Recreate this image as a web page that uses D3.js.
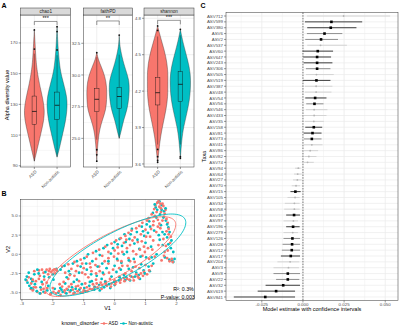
<!DOCTYPE html>
<html><head><meta charset="utf-8">
<script src="https://cdn.jsdelivr.net/npm/d3@7"></script>
<style>body{margin:0;background:#fff} svg{display:block;font-family:"Liberation Sans",Arial,sans-serif}</style>
</head><body><svg id="c" width="400" height="328"></svg>
<script>
// ================= DATA =================
// ---- Panel A: alpha diversity
const groups = ["ASD", "Non-autistic"];
const metrics = ["chao1", "faithPD", "shannon"];
const metricTicks = [[90,110,130,150,170],[25.0,27.5,30.0,32.5],[3.6,3.9,4.2,4.5,4.8]];
const metricTickLabels = [["90","110","130","150","170"],["25.0","27.5","30.0","32.5"],["3.6","3.9","4.2","4.5","4.8"]];
const metricLimits = [[89.2,188.2],[22.74,34.73],[3.575,4.827]];
const signifLabels = ["***","**","***"];
const bracketY = [184.0, 34.26, 4.783];
const bracketTipY = [181.7, 33.94, 4.75];
// violin density profiles: [value, relative width]
const chao1ASD = [[178.5,0],[170,0.07],[160,0.15],[154.4,0.23],[148,0.36],[139,0.64],[132.6,0.86],[126,1.0],[119.6,0.93],[111,0.64],[104.6,0.41],[98,0.18],[93,0]];
const chao1NA  = [[180.6,0],[172,0.06],[165,0.12],[155,0.25],[148,0.45],[141.5,0.72],[135,0.95],[129,1.0],[122,0.9],[115,0.7],[108,0.45],[101,0.22],[95.6,0]];
const faithASD = [[31.76,0],[31.2,0.15],[30.65,0.45],[29.87,0.82],[29.05,1.0],[28.03,0.98],[27.24,0.9],[26.45,0.55],[25.66,0.27],[24.87,0.14],[24.1,0.06],[23.2,0]];
const faithNA  = [[33.15,0],[32.5,0.04],[31.97,0.13],[30.9,0.43],[29.87,0.87],[29.3,1.0],[28.3,0.98],[27.24,0.78],[26.45,0.43],[25.66,0.22],[25.0,0]];
const shannonASD = [[4.737,0],[4.676,0.18],[4.594,0.45],[4.484,0.82],[4.374,1.0],[4.29,1.0],[4.15,1.0],[4.045,0.82],[3.94,0.55],[3.82,0.27],[3.715,0.13],[3.614,0]];
const shannonNA  = [[4.709,0],[4.65,0.13],[4.566,0.36],[4.456,0.72],[4.347,1.0],[4.23,1.0],[4.127,0.9],[4.02,0.64],[3.907,0.32],[3.798,0.13],[3.647,0]];
const violinProfiles = [[chao1ASD, chao1NA],[faithASD, faithNA],[shannonASD, shannonNA]];
const boxQ1 = [[117,120.2],[27.1,27.37],[4.086,4.113]];
const boxMedian = [[125.4,129.4],[28.08,28.3],[4.187,4.256]];
const boxQ3 = [[135.4,138],[28.95,29.03],[4.314,4.36]];
const whiskerLow = [[93,96],[24.9,25.0],[3.76,3.76]];
const whiskerHigh = [[163,162],[31.4,31.6],[4.65,4.66]];
const outliers = [[[166,178.5],[165.4,177.4,180.6]],[[31.76,24.1,23.7,23.2],[33.15]],[[4.70,4.737,3.72,3.66,3.63,3.614],[4.709,3.66,3.647]]];

// ---- Panel B: ordination
const pcoaXTicks = [-3,-2,-1,0,1,2];
const pcoaYTicks = [-5,-2.5,0,2.5,5];
const pcoaYTickLabels = ["-5.0","-2.5","0.0","2.5","5.0"];
const pcoaXLimits = [-3.04, 2.58];
const pcoaYLimits = [-5.86, 7.17];
const asdPoints = [[-2.85,-3.4],[-2.78,-3.0],[-2.7,-3.8],[-2.62,-4.3],[-2.55,-3.5],[-2.5,-4.9],[-2.45,-2.1],[-2.42,-2.8],[-2.38,-4.6],[-2.33,-3.9],[-2.3,-2.4],[-2.25,-5.0],[-2.2,-2.0],[-2.18,-4.4],[-2.15,-2.6],[-2.1,-1.9],[-2.08,-5.2],[-2.05,-2.3],[-2.0,-2.1],[-1.98,-4.9],[-1.95,-1.95],[-1.92,-2.5],[-1.9,-5.1],[-1.86,-2.2],[-2.6,-2.2],[-2.65,-4.7],[-2.4,-5.1],[-2.35,-2.0],[-2.28,-3.3],[-2.72,-4.5],
[-1.8,-4.8],[-1.75,-5.3],[-1.7,-4.2],[-1.65,-3.6],[-1.6,-5.0],[-1.55,-4.5],[-1.5,-3.2],[-1.45,-4.9],[-1.4,-3.9],[-1.35,-4.6],[-1.3,-2.8],[-1.25,-4.2],[-1.2,-4.8],[-1.15,-3.5],[-1.1,-4.4],[-1.05,-2.4],[-1.0,-4.7],[-0.95,-3.8],[-0.9,-4.3],[-0.85,-3.0],[-0.8,-4.5],[-0.75,-2.2],[-0.7,-3.9],[-0.65,-4.2],[-0.6,-3.3],[-0.55,-4.4],[-0.5,-1.6],[-0.45,-3.7],[-0.4,-4.0],[-0.35,-2.6],[-0.3,-3.5],[-0.25,-4.1],[-0.2,-1.2],[-0.15,-3.2],[-0.1,-3.8],[-0.05,-2.0],[0.0,-3.4],[0.05,-3.6],[0.1,-0.8],[0.15,-2.9],[0.2,-3.3],[0.25,-1.5],[0.3,-3.1],[0.35,-2.5],[0.4,-3.2],[0.45,-0.5],[0.5,-2.8],[0.55,-2.2],[0.6,-3.0],[0.65,-1.0],[0.7,-2.6],[0.75,-2.9],[0.8,-1.8],[0.85,-2.5],[0.9,-0.2],[0.95,-2.3],[1.0,-1.4],
[-1.7,-1.6],[-1.6,-2.4],[-1.5,-1.3],[-1.4,-1.9],[-1.3,-1.0],[-1.2,-1.5],[-1.1,-0.7],[-1.0,-1.8],[-0.9,-0.3],[-0.8,-1.2],[-0.7,0.2],[-0.6,-0.6],[-0.5,0.6],[-0.4,-0.2],[-0.3,1.0],[-0.2,0.3],[-0.1,1.4],[0.0,0.5],[0.05,1.8],[0.1,0.9],[0.2,2.1],[0.25,0.3],[0.3,1.5],[0.35,2.4],[0.4,0.8],[0.45,2.8],[0.5,1.2],[0.55,3.1],[0.6,0.4],[0.65,2.2],[0.7,3.4],[0.75,1.6],[0.8,3.7],[0.85,2.6],[0.9,4.1],[0.95,1.0],[1.0,3.2],[1.05,4.4],[-0.6,-2.5],[-0.2,-0.5],[0.15,-1.8],[0.5,-0.9],[0.7,0.0],
[1.1,4.7],[1.15,2.3],[1.2,5.2],[1.22,0.6],[1.25,3.8],[1.28,5.9],[1.3,-0.3],[1.32,6.4],[1.35,2.9],[1.38,6.7],[1.4,4.5],[1.42,1.2],[1.45,6.2],[1.48,3.4],[1.5,5.5],[1.52,-0.8],[1.55,6.6],[1.58,2.0],[1.6,4.9],[1.62,0.3],[1.65,5.8],[1.68,3.0],[1.7,-0.5],[1.72,4.1],[1.75,2.6],[1.78,-0.9],[1.8,1.5],[1.85,-0.6],[1.88,-1.0],[1.3,5.0],[1.45,4.0],[1.25,1.8],
[-1.78,-3.9],[-1.62,-4.7],[-1.48,-4.2],[-1.33,-5.1],[-1.18,-4.1],[-1.03,-5.0],[-0.88,-4.8],[-0.72,-4.6],[-0.58,-3.8],[-0.42,-4.5],[-0.28,-3.9],[-0.12,-4.2],[0.02,-3.9],[0.18,-3.7],[0.32,-3.5],[0.48,-3.3],[0.62,-3.4],[0.78,-3.1],[0.92,-2.8],[1.05,-2.6],[1.12,-2.1],[1.2,-1.5],
[-1.45,-2.7],[-1.25,-2.2],[-1.05,-1.2],[-0.95,-2.6],[-0.78,-1.7],[-0.62,-1.4],[-0.48,-2.2],[-0.32,-0.9],[-0.18,-2.4],[-0.02,-0.3],[0.12,0.1],[0.22,-0.9],[0.38,1.9],[0.42,-1.5],[0.58,1.8],[0.68,-1.6],[0.82,0.6],[0.88,1.7],[0.98,0.3],[1.08,0.8],[1.12,-0.6],[1.18,3.3],[1.02,2.3],
[1.36,5.5],[1.42,6.9],[1.48,6.6],[1.5,6.0],[1.58,6.3],[1.62,5.3],[1.68,4.6],[1.26,4.3],[1.4,3.6],[1.55,4.4],[1.75,3.3],[1.82,2.3],[1.66,1.1],[1.6,-0.2],[1.72,0.5],
[-2.55,-4.3],[-2.45,-3.2],[-2.2,-3.7],[-2.0,-4.4],[-2.12,-2.2],[-1.9,-2.0],[-2.3,-4.5],[-2.65,-3.3]];
const naPoints = [[-2.88,-3.3],[-2.82,-3.7],[-2.76,-4.1],[-2.7,-3.2],[-2.64,-4.6],[-2.58,-3.9],[-2.52,-4.8],[-2.46,-2.5],[-2.4,-4.3],[-2.36,-3.6],[-2.3,-4.9],[-2.24,-2.3],[-2.18,-4.7],[-2.12,-3.0],[-2.06,-5.1],[-2.0,-2.6],[-1.94,-4.5],[-1.88,-1.9],[-2.78,-2.4],[-2.5,-2.0],
[-1.82,-5.0],[-1.76,-4.4],[-1.68,-4.9],[-1.6,-3.8],[-1.52,-4.6],[-1.44,-2.6],[-1.38,-4.3],[-1.3,-5.0],[-1.22,-3.3],[-1.14,-4.6],[-1.06,-3.9],[-0.98,-4.4],[-0.9,-2.0],[-0.82,-4.1],[-0.74,-3.5],[-0.66,-4.6],[-0.58,-2.8],[-0.5,-4.0],[-0.42,-3.2],[-0.34,-4.3],[-0.26,-1.8],[-0.18,-3.9],[-0.1,-2.9],[-0.02,-3.6],[0.06,-2.3],[0.14,-3.4],[0.22,-1.1],[0.3,-2.7],[0.38,-3.0],[0.46,-1.9],[0.54,-2.9],[0.62,-0.6],[0.7,-2.4],[0.78,-2.7],[0.86,-1.3],[0.94,-2.1],[1.02,-0.4],[1.1,-1.6],
[-1.75,-2.0],[-1.62,-1.5],[-1.48,-2.2],[-1.35,-1.2],[-1.22,-0.9],[-1.1,-1.6],[-0.98,-0.5],[-0.86,0.0],[-0.72,-0.9],[-0.6,0.4],[-0.48,-0.1],[-0.36,0.8],[-0.24,1.2],[-0.12,0.1],[0.0,1.6],[0.08,-0.6],[0.16,2.0],[0.24,1.1],[0.32,2.6],[0.4,0.3],[0.48,2.0],[0.56,3.3],[0.64,1.4],[0.72,2.9],[0.8,0.7],[0.88,3.6],[0.96,2.4],[1.04,3.9],[0.0,-1.5],[-0.4,-1.2],[0.3,0.0],
[1.12,4.3],[1.18,1.0],[1.24,5.4],[1.28,3.1],[1.33,6.1],[1.36,0.0],[1.4,6.8],[1.43,2.5],[1.47,5.2],[1.5,3.8],[1.53,6.4],[1.56,1.2],[1.6,5.6],[1.63,-0.4],[1.66,4.4],[1.7,2.2],[1.74,3.5],[1.77,-0.7],[1.82,0.8],[1.86,-0.8],[1.9,-1.0],[1.35,4.8],[1.55,2.9],
[-1.72,-4.6],[-1.56,-5.1],[-1.42,-4.7],[-1.26,-4.5],[-1.1,-5.0],[-0.94,-4.8],[-0.8,-3.6],[-0.64,-4.3],[-0.48,-4.7],[-0.3,-3.6],[-0.14,-4.4],[0.0,-4.0],[0.16,-3.0],[0.34,-3.4],[0.5,-3.4],[0.66,-2.9],[0.82,-3.2],[0.98,-2.5],[1.14,-2.2],[1.25,-1.2],
[-1.55,-3.0],[-1.32,-3.6],[-1.15,-2.4],[-0.92,-1.2],[-0.76,-2.6],[-0.55,-1.6],[-0.38,-2.4],[-0.2,-0.9],[-0.05,0.8],[0.1,1.3],[0.2,-2.0],[0.36,1.6],[0.46,-0.8],[0.52,2.6],[0.6,-1.7],[0.74,1.9],[0.84,-0.3],[0.92,3.0],[1.0,1.5],[1.08,2.8],[1.15,3.6],[1.2,-0.4],
[1.3,6.5],[1.38,5.8],[1.45,6.9],[1.52,5.8],[1.58,4.8],[1.65,6.0],[1.7,3.9],[1.78,2.9],[1.84,1.8],[1.9,0.3],[1.94,-0.6],[1.62,2.6],[1.46,1.9],[1.74,1.3],
[-2.84,-2.9],[-2.66,-3.5],[-2.6,-2.6],[-2.42,-5.1],[-2.28,-2.9],[-2.15,-4.1],[-1.98,-3.3],[-2.7,-4.4]];
// 95% ellipses: [centre V1, centre V2, half-extent V1, half-extent V2, correlation]
const ellipseASD = [-0.135, -0.3, 2.115, 5.2, 0.80];
const ellipseNA  = [0.105, -0.09, 2.2, 5.34, 0.79];
const r2Label = "R²: 0.3%";
const pLabel = "P-value: 0.003";

// ---- Panel C: model estimates
const taxa = ["ASV712","ASV599","ASV380","ASV6","ASV2","ASV537","ASV60","ASV647","ASV243","ASV306","ASV505","ASV519","ASV387","ASV48","ASV54","ASV56","ASV546","ASV433","ASV35","ASV158","ASV81","ASV73","ASV41","ASV86","ASV82","ASV74","ASV94","ASV64","ASV27","ASV70","ASV15","ASV105","ASV34","ASV58","ASV18","ASV97","ASV196","ASV279","ASV126","ASV28","ASV12","ASV17","ASV204","ASV3","ASV8","ASV22","ASV32","ASV619","ASV841"];
const estimate = [0.0247,0.0173,0.0169,0.0131,0.011,0.0107,0.009,0.0086,0.0086,0.0086,0.0082,0.0082,0.008,0.008,0.0074,0.007,0.0068,0.0068,0.0066,0.0066,0.0058,0.0054,0.0054,0.0044,0.0036,0.0028,-0.0028,-0.0032,-0.0034,-0.0042,-0.0046,-0.0048,-0.0052,-0.0052,-0.0054,-0.0058,-0.006,-0.0062,-0.0064,-0.0066,-0.0068,-0.0074,-0.0078,-0.0088,-0.0092,-0.0092,-0.012,-0.0163,-0.0229];
const ciLow = [0.0024,0.0012,0.0026,0.0024,0.0014,0.0026,-0.0002,0.0002,0.0004,0.0018,0.0018,0.0,0.0012,0.0012,0.0014,0.002,0.0018,0.0006,0.0012,0.0014,0.0004,0.0006,0.0004,0.0004,0.001,0.0006,-0.0048,-0.0054,-0.006,-0.0068,-0.0076,-0.0094,-0.011,-0.0114,-0.0102,-0.0118,-0.0102,-0.0118,-0.0118,-0.0124,-0.0128,-0.0134,-0.0155,-0.0179,-0.0179,-0.0163,-0.0227,-0.0275,-0.042];
const ciHigh = [0.053,0.036,0.0325,0.0239,0.0213,0.0267,0.0183,0.0171,0.0179,0.0167,0.0187,0.0167,0.0179,0.0173,0.0143,0.0125,0.0149,0.0143,0.0127,0.0117,0.0113,0.0113,0.0119,0.0092,0.0082,0.0066,-0.0014,-0.0008,-0.0008,-0.0018,-0.0014,-0.002,-0.002,-0.002,-0.0018,-0.003,-0.002,-0.003,-0.0018,-0.0018,-0.0018,-0.0018,-0.0022,-0.0024,-0.0018,-0.0022,-0.0018,-0.0048,-0.0048];
// significance strength: 2 strong, 1 moderate, 0 not significant
const sigLevel = [0,2,2,1,1,0,2,2,2,1,0,2,0,0,2,1,0,0,0,2,2,1,0,0,0,0,0,0,0,0,2,0,0,0,2,0,2,0,1,1,1,2,0,0,1,1,2,2,2];
const estTicks = [-0.025, 0.000, 0.025, 0.050];
const estTickLabels = ["-0.025","0.000","0.025","0.050"];

// ================= DRAW =================
const svg = d3.select("#c");
svg.append("rect").attr("width",400).attr("height",328).attr("fill","#fff");
const GRID = "#ebebeb", BORDER = "#333333", TXT = "#4d4d4d";
const groupColor = d3.scaleOrdinal().domain(groups).range(["#F8766D","#00BFC4"]);
function minorBreaks(ticks, dom){
  const st = ticks[1]-ticks[0], out=[];
  for(let i=-1;i<ticks.length;i++){ const v = ticks[0]+st*(i+0.5); if(v>=dom[0]&&v<=dom[1]) out.push(v); }
  return out;
}
function panelLetter(t,x,y){ svg.append("text").attr("x",x).attr("y",y).attr("font-size",7).attr("font-weight","bold").text(t); }

// ---- Panel A
panelLetter("A",1.5,8);
const aLeft=[20.7,83.3,144], aWidth=[50,49.4,50], aTop=15, aBottom=167, stripTop=8;
metrics.forEach((m,mi)=>{
  const L=aLeft[mi], W=aWidth[mi];
  const x=d3.scalePoint().domain(groups).range([L,L+W]).padding(0.6);
  const y=d3.scaleLinear().domain(metricLimits[mi]).range([aBottom,aTop]);
  const g=svg.append("g");
  minorBreaks(metricTicks[mi],metricLimits[mi]).forEach(v=>g.append("line").attr("x1",L).attr("x2",L+W).attr("y1",y(v)).attr("y2",y(v)).attr("stroke",GRID).attr("stroke-width",0.4));
  metricTicks[mi].forEach(v=>g.append("line").attr("x1",L).attr("x2",L+W).attr("y1",y(v)).attr("y2",y(v)).attr("stroke",GRID).attr("stroke-width",0.8));
  groups.forEach(gr=>g.append("line").attr("x1",x(gr)).attr("x2",x(gr)).attr("y1",aTop).attr("y2",aBottom).attr("stroke",GRID).attr("stroke-width",0.8));
  const hw = 0.45*x.step();
  groups.forEach((gr,gi)=>{
    const cx=x(gr);
    const area=d3.area().y(d=>y(d[0])).x0(d=>cx-hw*d[1]).x1(d=>cx+hw*d[1]).curve(d3.curveBasis);
    g.append("path").attr("d",area(violinProfiles[mi][gi])).attr("fill",groupColor(gr)).attr("stroke","#333").attr("stroke-width",0.4);
    const bw=0.1*x.step();
    g.append("line").attr("x1",cx).attr("x2",cx).attr("y1",y(whiskerLow[mi][gi])).attr("y2",y(boxQ1[mi][gi])).attr("stroke","#111").attr("stroke-width",0.4);
    g.append("line").attr("x1",cx).attr("x2",cx).attr("y1",y(whiskerHigh[mi][gi])).attr("y2",y(boxQ3[mi][gi])).attr("stroke","#111").attr("stroke-width",0.4);
    g.append("rect").attr("x",cx-bw).attr("width",2*bw).attr("y",y(boxQ3[mi][gi])).attr("height",y(boxQ1[mi][gi])-y(boxQ3[mi][gi])).attr("fill","none").attr("stroke","#111").attr("stroke-width",0.4);
    g.append("line").attr("x1",cx-bw).attr("x2",cx+bw).attr("y1",y(boxMedian[mi][gi])).attr("y2",y(boxMedian[mi][gi])).attr("stroke","#111").attr("stroke-width",0.8);
    outliers[mi][gi].forEach(v=>g.append("circle").attr("cx",cx).attr("cy",y(v)).attr("r",0.9).attr("fill","#111"));
  });
  // significance bracket
  const x1=x(groups[0]), x2=x(groups[1]);
  g.append("path").attr("d",`M${x1},${y(bracketTipY[mi])}V${y(bracketY[mi])}H${x2}V${y(bracketTipY[mi])}`).attr("fill","none").attr("stroke","#333").attr("stroke-width",0.5);
  g.append("text").attr("x",(x1+x2)/2).attr("y",y(bracketY[mi])-1).attr("text-anchor","middle").attr("font-size",5.5).text(signifLabels[mi]);
  g.append("rect").attr("x",L).attr("y",aTop).attr("width",W).attr("height",aBottom-aTop).attr("fill","none").attr("stroke",BORDER).attr("stroke-width",0.5);
  g.append("rect").attr("x",L).attr("y",stripTop).attr("width",W).attr("height",aTop-stripTop).attr("fill","#d9d9d9").attr("stroke",BORDER).attr("stroke-width",0.5);
  g.append("text").attr("x",L+W/2).attr("y",(stripTop+aTop)/2).attr("dy","0.35em").attr("text-anchor","middle").attr("font-size",4.6).attr("fill","#1a1a1a").text(m);
  metricTicks[mi].forEach((v,i)=>{
    g.append("line").attr("x1",L-2).attr("x2",L).attr("y1",y(v)).attr("y2",y(v)).attr("stroke",BORDER).attr("stroke-width",0.5);
    g.append("text").attr("x",L-3).attr("y",y(v)).attr("dy","0.35em").attr("text-anchor","end").attr("font-size",4.4).attr("fill",TXT).text(metricTickLabels[mi][i]);
  });
  groups.forEach(gr=>{
    g.append("line").attr("x1",x(gr)).attr("x2",x(gr)).attr("y1",aBottom).attr("y2",aBottom+2).attr("stroke",BORDER).attr("stroke-width",0.5);
    g.append("text").attr("transform",`translate(${x(gr)+1.5},${aBottom+4}) rotate(-45)`).attr("text-anchor","end").attr("dy","0.35em").attr("font-size",4.4).attr("fill",TXT).text(gr);
  });
});
svg.append("text").attr("transform","translate(7.5,95) rotate(-90)").attr("text-anchor","middle").attr("dy","0.35em").attr("font-size",5.5).text("Alpha diversity value");

// ---- Panel B
panelLetter("B",1.5,196);
const bL=20.7,bR=194.3,bT=199.3,bB=299.3;
const bx=d3.scaleLinear().domain(pcoaXLimits).range([bL,bR]);
const by=d3.scaleLinear().domain(pcoaYLimits).range([bB,bT]);
const gb=svg.append("g");
gb.append("clipPath").attr("id","clipB").append("rect").attr("x",bL).attr("y",bT).attr("width",bR-bL).attr("height",bB-bT);
minorBreaks(pcoaXTicks,pcoaXLimits).forEach(v=>gb.append("line").attr("x1",bx(v)).attr("x2",bx(v)).attr("y1",bT).attr("y2",bB).attr("stroke",GRID).attr("stroke-width",0.4));
minorBreaks(pcoaYTicks,pcoaYLimits).forEach(v=>gb.append("line").attr("x1",bL).attr("x2",bR).attr("y1",by(v)).attr("y2",by(v)).attr("stroke",GRID).attr("stroke-width",0.4));
pcoaXTicks.forEach(v=>gb.append("line").attr("x1",bx(v)).attr("x2",bx(v)).attr("y1",bT).attr("y2",bB).attr("stroke",GRID).attr("stroke-width",0.8));
pcoaYTicks.forEach(v=>gb.append("line").attr("x1",bL).attr("x2",bR).attr("y1",by(v)).attr("y2",by(v)).attr("stroke",GRID).attr("stroke-width",0.8));
const combined=[]; const nmax=Math.max(asdPoints.length,naPoints.length);
for(let i=0;i<nmax;i++){ if(asdPoints[i]) combined.push({p:asdPoints[i],g:groups[0]}); if(naPoints[i]) combined.push({p:naPoints[i],g:groups[1]}); }
const gpts=gb.append("g").attr("clip-path","url(#clipB)");
gpts.selectAll("circle").data(combined).join("circle").attr("cx",d=>bx(d.p[0])).attr("cy",d=>by(d.p[1])).attr("r",1.4).attr("fill",d=>groupColor(d.g));
function ellipsePath(e){
  const [cx,cy,hx,hy,rho]=e, pts=[];
  for(let i=0;i<=120;i++){ const t=i/120*2*Math.PI; pts.push([cx+hx*Math.cos(t), cy+hy*(rho*Math.cos(t)+Math.sqrt(1-rho*rho)*Math.sin(t))]); }
  return d3.line().x(d=>bx(d[0])).y(d=>by(d[1]))(pts);
}
gpts.append("path").attr("d",ellipsePath(ellipseASD)).attr("fill","none").attr("stroke",groupColor(groups[0])).attr("stroke-width",0.9);
gpts.append("path").attr("d",ellipsePath(ellipseNA)).attr("fill","none").attr("stroke",groupColor(groups[1])).attr("stroke-width",0.9);
gb.append("text").attr("x",bR-0.5).attr("y",by(-4.6)).attr("dy","0.35em").attr("text-anchor","end").attr("font-size",5.3).text(r2Label);
gb.append("text").attr("x",bR+0.5).attr("y",by(-5.55)).attr("dy","0.35em").attr("text-anchor","end").attr("font-size",5.3).text(pLabel);
gb.append("rect").attr("x",bL).attr("y",bT).attr("width",bR-bL).attr("height",bB-bT).attr("fill","none").attr("stroke",BORDER).attr("stroke-width",0.5);
pcoaXTicks.forEach(v=>{
  gb.append("line").attr("x1",bx(v)).attr("x2",bx(v)).attr("y1",bB).attr("y2",bB+2).attr("stroke",BORDER).attr("stroke-width",0.5);
  gb.append("text").attr("x",bx(v)).attr("y",bB+5.5).attr("text-anchor","middle").attr("font-size",4.4).attr("fill",TXT).text(v);
});
pcoaYTicks.forEach((v,i)=>{
  gb.append("line").attr("x1",bL-2).attr("x2",bL).attr("y1",by(v)).attr("y2",by(v)).attr("stroke",BORDER).attr("stroke-width",0.5);
  gb.append("text").attr("x",bL-3).attr("y",by(v)).attr("dy","0.35em").attr("text-anchor","end").attr("font-size",4.4).attr("fill",TXT).text(pcoaYTickLabels[i]);
});
gb.append("text").attr("x",(bL+bR)/2).attr("y",309.5).attr("text-anchor","middle").attr("font-size",5.5).text("V1");
gb.append("text").attr("transform",`translate(8,${(bT+bB)/2}) rotate(-90)`).attr("text-anchor","middle").attr("dy","0.35em").attr("font-size",5.5).text("V2");
// legend
const ly=323.5;
gb.append("text").attr("x",61.5).attr("y",ly).attr("dy","0.35em").attr("font-size",5.3).text("known_disorder");
const keyX=[104,123.5], keyTxt=[108.5,128.5];
groups.forEach((gr,i)=>{
  gb.append("line").attr("x1",keyX[i]-3.5).attr("x2",keyX[i]+3.5).attr("y1",ly).attr("y2",ly).attr("stroke",groupColor(gr)).attr("stroke-width",0.9);
  gb.append("circle").attr("cx",keyX[i]).attr("cy",ly).attr("r",1.3).attr("fill",groupColor(gr));
  gb.append("text").attr("x",keyTxt[i]).attr("y",ly).attr("dy","0.35em").attr("font-size",4.6).text(gr);
});

// ---- Panel C
panelLetter("C",200.5,8);
const cL=226,cR=398,cT=12.5,cB=300.5;
const ext=d3.extent([...ciLow,...ciHigh]); const pad=(ext[1]-ext[0])*0.05;
const cx=d3.scaleLinear().domain([ext[0]-pad,ext[1]+pad]).range([cL,cR]);
const cy=d3.scalePoint().domain(taxa).range([cT,cB]).padding(0.6);
const gc=svg.append("g");
minorBreaks(estTicks,cx.domain()).forEach(v=>gc.append("line").attr("x1",cx(v)).attr("x2",cx(v)).attr("y1",cT).attr("y2",cB).attr("stroke",GRID).attr("stroke-width",0.4));
estTicks.forEach(v=>gc.append("line").attr("x1",cx(v)).attr("x2",cx(v)).attr("y1",cT).attr("y2",cB).attr("stroke",GRID).attr("stroke-width",0.8));
taxa.forEach(t=>gc.append("line").attr("x1",cL).attr("x2",cR).attr("y1",cy(t)).attr("y2",cy(t)).attr("stroke",GRID).attr("stroke-width",0.7));
gc.append("line").attr("x1",cx(0)).attr("x2",cx(0)).attr("y1",cT).attr("y2",cB).attr("stroke","#222").attr("stroke-width",0.6).attr("stroke-dasharray","1.5,1.2");
const lineCol=["#d4d4d4","#8f8f8f","#3d3d3d"];
taxa.forEach((t,i)=>{
  gc.append("line").attr("x1",cx(ciLow[i])).attr("x2",cx(ciHigh[i])).attr("y1",cy(t)).attr("y2",cy(t)).attr("stroke",lineCol[sigLevel[i]]).attr("stroke-width",1.0);
  if(sigLevel[i]>0) gc.append("rect").attr("x",cx(estimate[i])-1.3).attr("y",cy(t)-1.3).attr("width",2.6).attr("height",2.6).attr("fill","#000");
  else gc.append("circle").attr("cx",cx(estimate[i])).attr("cy",cy(t)).attr("r",0.9).attr("fill","#b5b5b5");
});
gc.append("rect").attr("x",cL).attr("y",cT).attr("width",cR-cL).attr("height",cB-cT).attr("fill","none").attr("stroke",BORDER).attr("stroke-width",0.5);
taxa.forEach(t=>{
  gc.append("line").attr("x1",cL-2).attr("x2",cL).attr("y1",cy(t)).attr("y2",cy(t)).attr("stroke",BORDER).attr("stroke-width",0.5);
  gc.append("text").attr("x",cL-3).attr("y",cy(t)).attr("dy","0.35em").attr("text-anchor","end").attr("font-size",4.4).attr("fill",TXT).text(t);
});
estTicks.forEach((v,i)=>{
  gc.append("line").attr("x1",cx(v)).attr("x2",cx(v)).attr("y1",cB).attr("y2",cB+2).attr("stroke",BORDER).attr("stroke-width",0.5);
  gc.append("text").attr("x",cx(v)).attr("y",cB+5.5).attr("text-anchor","middle").attr("font-size",4.4).attr("fill",TXT).text(estTickLabels[i]);
});
gc.append("text").attr("x",(cL+cR)/2).attr("y",311).attr("text-anchor","middle").attr("font-size",5.5).text("Model estimate with confidence intervals");
gc.append("text").attr("transform",`translate(204.5,${(cT+cB)/2}) rotate(-90)`).attr("text-anchor","middle").attr("dy","0.35em").attr("font-size",5.5).text("Taxa");
</script></body></html>
